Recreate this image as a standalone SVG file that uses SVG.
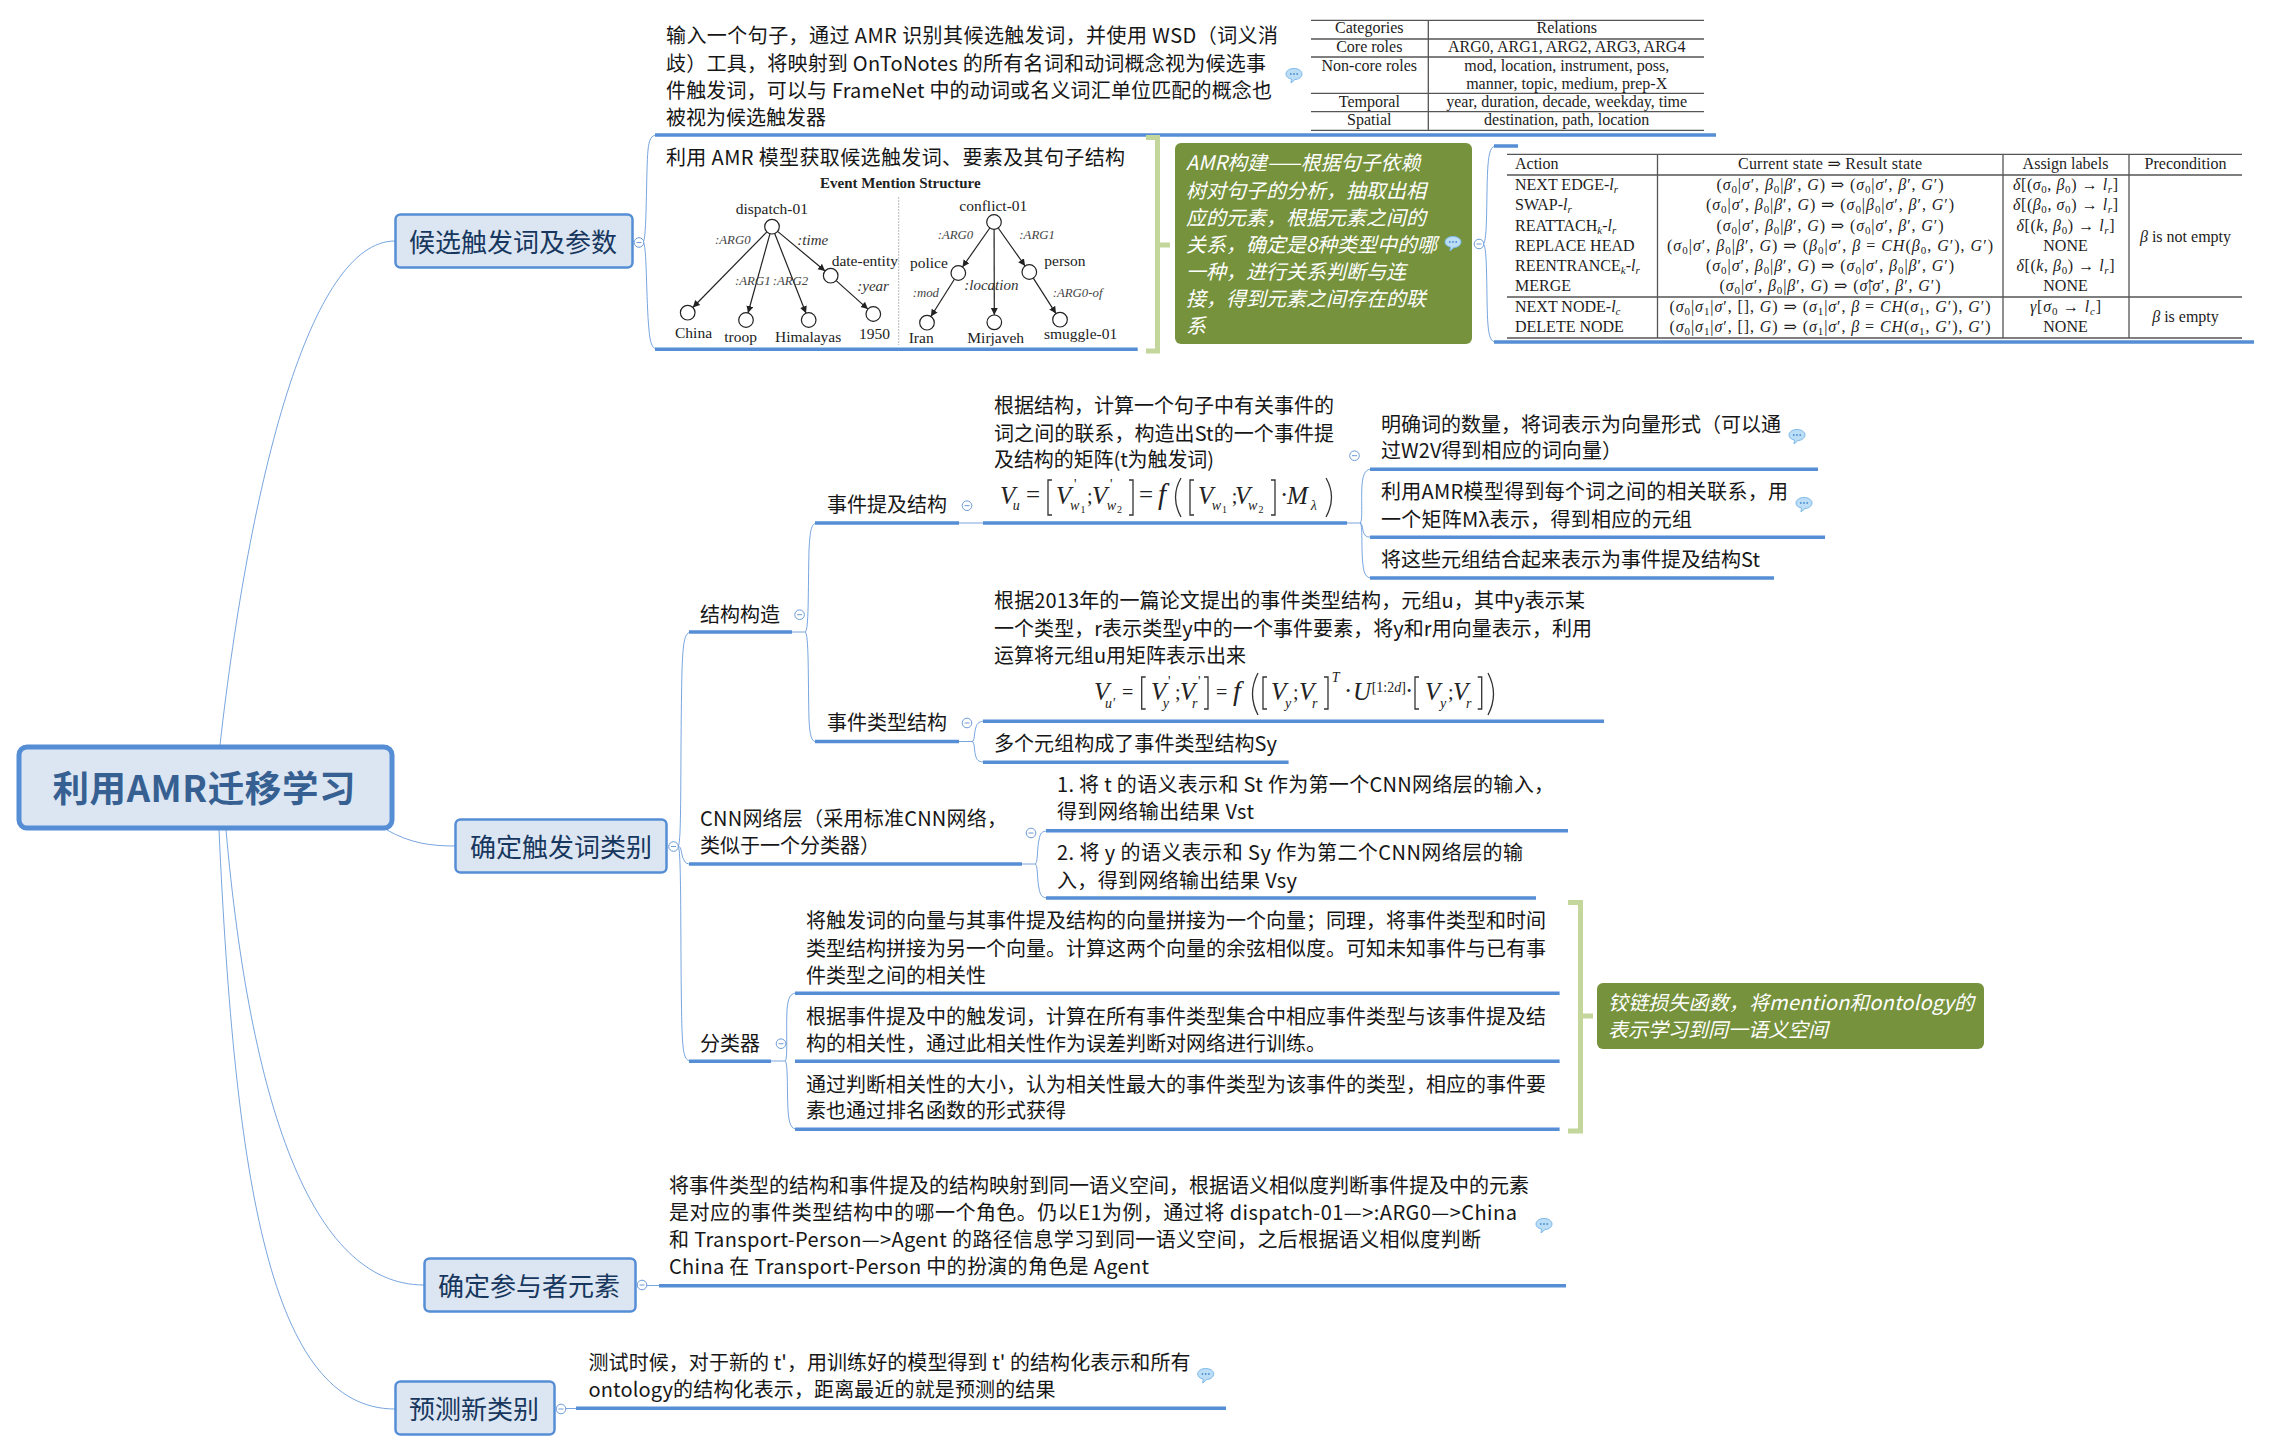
<svg xmlns="http://www.w3.org/2000/svg" width="2271" height="1451" viewBox="0 0 2271 1451">
<style>
text{font-family:"Noto Sans CJK SC","Noto Sans",sans-serif;fill:#161616;font-size:20px}
.c{font-size:36.500px;font-weight:700;fill:#376092;text-anchor:middle}
.t{font-size:26px;fill:#17375E}
.g{fill:#fff;font-style:italic}
.box{fill:#DCE6F2;stroke:#558ED5;stroke-width:2.5}
.u{stroke:#558ED5;stroke-width:3.5;fill:none}
.gb{fill:#76923C}
.sb{fill:none;stroke:#C3D69B;stroke-width:5}
.sr,.sr text{font-family:"Liberation Serif","DejaVu Serif",serif;font-size:16px;fill:#1c1c1c}
.m{text-anchor:middle}
.tl{stroke:#555;stroke-width:1.3;fill:none}
.am text{font-family:"Liberation Serif","DejaVu Serif",serif;font-size:15.5px;fill:#222}
.am .l{font-style:italic;font-size:12.8px;fill:#444}
.am .k{font-style:italic;font-size:15px;fill:#333}
.am .h{font-weight:700;font-size:15px}
.am circle{fill:#fff;stroke:#222;stroke-width:1.2}
.am line{stroke:#222;stroke-width:1.2;marker-end:url(#ah)}
.i{font-style:italic}
.s{font-size:11px;baseline-shift:-3px}
.fm text{font-family:"Liberation Serif","DejaVu Serif",serif;font-size:25px;fill:#222;font-style:italic}
.fm .n{font-style:normal}
.fm .z{font-size:14px}
.fm .d{font-size:10px;font-style:normal}
.fm path{fill:none;stroke:#333;stroke-width:1.3}
</style>
<defs>
<marker id="ah" markerUnits="userSpaceOnUse" markerWidth="8" markerHeight="8" refX="7" refY="3.5" orient="auto"><path d="M0,0L7,3.5L0,7z" fill="#222"/></marker>
<g id="note"><path d="M-8,-1C-8,-4.500 -4,-6.500 0,-6.500C4,-6.500 8,-4.500 8,-1C8,2.500 4,4.500 1,4.500L-3,8L-2.500,4C-6,3.400 -8,1.500 -8,-1z" fill="#BBDDF6" stroke="#7DB9EA" stroke-width="1"/><circle cx="-3.200" cy="-1" r=".9" fill="#4A90D0"/><circle cx="0" cy="-1" r=".9" fill="#4A90D0"/><circle cx="3.200" cy="-1" r=".9" fill="#4A90D0"/></g>
<g id="col"><circle r="4.800" fill="#fff" stroke="#6C9BD8" stroke-width="1"/><path d="M-2.500,0H2.500" stroke="#6C9BD8" stroke-width="1"/></g>
</defs>
<rect width="2271" height="1451" fill="#fff"/>
<g id="connectors" fill="none" stroke="#558ED5" stroke-width=".8">
<path d="M220,745C250,480 310,241 395,241"/>
<path d="M387,830C410,843 430,846 455,846"/>
<path d="M226,830C250,1100 310,1285 424,1285"/>
<path d="M219,830C235,1180 270,1409 395,1409"/>
<path d="M643,242C647,242 646,170 648,150C649,140 651,135 657,135"/>
<path d="M643,242C647,242 646,300 649,330C650,342 652,349 657,349"/>
<path d="M1483,244C1488,244 1486,190 1488,165C1489,152 1491,146 1496,146"/>
<path d="M1483,244C1488,244 1486,300 1488,325C1489,337 1491,342 1496,342"/>
<path d="M678,846C682,846 680,760 682,670C683,645 684,632 691,632"/>
<path d="M678,846C682,846 681,856 684,860C685,863 687,864 691,864"/>
<path d="M678,846C682,846 680,960 682,1030C683,1052 684,1061 691,1061"/>
<path d="M792,632H805"/>
<path d="M805,632C809,632 808,590 809,550C810,532 811,523 817,523"/>
<path d="M805,632C809,632 808,680 809,720C810,735 811,742 817,742"/>
<path d="M959,523H983"/>
<path d="M1347,523H1360"/>
<path d="M1360,523C1363,523 1361,500 1362,485C1363,473 1366,469 1372,469"/>
<path d="M1360,523C1363,523 1362,532 1365,535C1366,537 1368,537 1372,537"/>
<path d="M1360,523C1363,523 1361,550 1363,565C1364,574 1366,578 1372,578"/>
<path d="M959,741.500H972"/>
<path d="M972,741.500C975,741.500 974,732 976,727C977,723 980,721 985,721"/>
<path d="M972,741.500C975,741.500 974,752 976,757C977,761 980,762 985,762"/>
<path d="M1022,864H1035"/>
<path d="M1035,864C1038,864 1037,848 1039,840C1040,833 1042,831 1048,831"/>
<path d="M1035,864C1038,864 1037,880 1039,888C1040,895 1042,898 1048,898"/>
<path d="M771,1061H785"/>
<path d="M785,1061C788,1061 786,1030 787,1010C788,998 790,993 797,993"/>
<path d="M785,1061C788,1061 787,1090 788,1110C789,1124 791,1129 797,1129"/>
<path d="M646,1285.500H660"/>
<path d="M565,1408.500H576"/>
</g>
<g id="n-central"><rect x="19" y="747" width="373" height="81" rx="8" fill="#DCE6F2" stroke="#558ED5" stroke-width="5"/><text class="c" x="204" y="802" textLength="303">利用AMR迁移学习</text></g>
<g id="n-topic1"><rect class="box" x="395.500" y="214.500" width="237" height="53" rx="5"/><text class="t" x="409" y="252">候选触发词及参数</text><use href="#col" x="639" y="242.500"/></g>
<g id="n-topic2"><rect class="box" x="455.500" y="819.500" width="211" height="53" rx="5"/><text class="t" x="470" y="857">确定触发词类别</text><use href="#col" x="673.500" y="846.500"/></g>
<g id="n-topic3"><rect class="box" x="424.500" y="1258.500" width="211" height="53" rx="5"/><text class="t" x="438" y="1296">确定参与者元素</text><use href="#col" x="642" y="1285"/></g>
<g id="n-topic4"><rect class="box" x="395.500" y="1381.500" width="159" height="53" rx="5"/><text class="t" x="409" y="1419">预测新类别</text><use href="#col" x="561" y="1409"/></g>
<g id="n-input"><path class="u" d="M655,135H1716"/>
<text x="666" y="43" textLength="612">输入一个句子，通过 AMR 识别其候选触发词，并使用 WSD（词义消</text>
<text x="666" y="71" textLength="600">歧）工具，将映射到 OnToNotes 的所有名词和动词概念视为候选事</text>
<text x="666" y="98" textLength="606">件触发词，可以与 FrameNet 中的动词或名义词汇单位匹配的概念也</text>
<text x="666" y="125">被视为候选触发器</text>
<use href="#note" x="1294" y="75"/>
<g class="sr" id="table-relations">
<path class="tl" d="M1311,20.300H1704M1311,39H1704M1311,57H1704M1311,93.300H1704M1311,111.700H1704M1311,130.300H1704M1428.300,20V130.500"/>
<g class="m"><text x="1369.300" y="33.300">Categories</text><text x="1369.300" y="51.700">Core roles</text><text x="1369.300" y="70.700">Non-core roles</text><text x="1369.300" y="106.700">Temporal</text><text x="1369.300" y="125">Spatial</text>
<text x="1566.700" y="33.300">Relations</text><text x="1566.700" y="51.700">ARG0, ARG1, ARG2, ARG3, ARG4</text><text x="1566.700" y="70.700">mod, location, instrument, poss,</text><text x="1566.700" y="89">manner, topic, medium, prep-X</text><text x="1566.700" y="106.700">year, duration, decade, weekday, time</text><text x="1566.700" y="125">destination, path, location</text></g>
</g></g>
<g id="n-amr" class="am"><path class="u" d="M655,349.300H1137.700"/>
<text x="666" y="165" textLength="459" style="font-family:'Noto Sans CJK SC','Noto Sans',sans-serif;font-size:20px;fill:#161616">利用 AMR 模型获取候选触发词、要素及其句子结构</text>
<text class="h" x="820" y="188">Event Mention Structure</text>
<path d="M898.700,197V345" stroke="#bbb" stroke-width="1" stroke-dasharray="2 1" fill="none"/>
<line x1="766.900" y1="231.900" x2="692.800" y2="307.500"/><line x1="770" y1="233.700" x2="748" y2="313"/><line x1="774.700" y1="233.500" x2="806" y2="313.200"/><line x1="777.600" y1="231.400" x2="825.100" y2="271"/><line x1="836.100" y1="280.600" x2="867.900" y2="309.100"/>
<line x1="989.800" y1="228" x2="962.500" y2="267"/><line x1="998.200" y1="228" x2="1025.100" y2="266"/><line x1="994.100" y1="229.300" x2="994.300" y2="315"/><line x1="954.400" y1="279.200" x2="930.900" y2="316.500"/><line x1="1033.300" y1="278.100" x2="1056" y2="313.600"/>
<circle cx="772" cy="226.700" r="7.300"/><circle cx="687.700" cy="312.700" r="7.300"/><circle cx="746" cy="320" r="7.300"/><circle cx="808.700" cy="320" r="7.300"/><circle cx="830.700" cy="275.700" r="7.300"/><circle cx="873.300" cy="314" r="7.300"/>
<circle cx="994" cy="222" r="7.300"/><circle cx="958.300" cy="273" r="7.300"/><circle cx="1029.300" cy="272" r="7.300"/><circle cx="927" cy="322.700" r="7.300"/><circle cx="994.300" cy="322.300" r="7.300"/><circle cx="1060" cy="319.700" r="7.300"/>
<text x="735.700" y="214">dispatch-01</text><text class="l" x="715" y="244">:ARG0</text><text class="k" x="797.300" y="245">:time</text><text x="831.700" y="265.700">date-entity</text><text class="l" x="735" y="285">:ARG1</text><text class="l" x="772.700" y="285">:ARG2</text><text class="k" x="857.300" y="290.700">:year</text>
<text x="675" y="337.700">China</text><text x="724.300" y="341.700">troop</text><text x="775" y="341.700">Himalayas</text><text x="859" y="339">1950</text>
<text x="959.300" y="210.700">conflict-01</text><text class="l" x="937.700" y="239">:ARG0</text><text class="l" x="1019.300" y="239">:ARG1</text><text x="910" y="268.300">police</text><text x="1044.300" y="266">person</text><text class="l" x="912.700" y="297">:mod</text><text class="k" x="964.300" y="290">:location</text><text class="l" x="1052.700" y="297">:ARG0-of</text>
<text x="908.700" y="342.700">Iran</text><text x="967.300" y="342.700">Mirjaveh</text><text x="1044" y="339">smuggle-01</text>
</g>
<g id="b-amr-summary"><path class="sb" d="M1146,137.500H1157.500V351H1146M1157.500,245H1170"/></g>
<g id="n-amr-note"><rect class="gb" x="1175" y="143" width="297" height="201" rx="6"/>
<text class="g" x="1186" y="170">AMR构建——根据句子依赖</text><text class="g" x="1186" y="198">树对句子的分析，抽取出相</text><text class="g" x="1186" y="225">应的元素，根据元素之间的</text><text class="g" x="1186" y="252">关系，确定是8种类型中的哪</text><text class="g" x="1186" y="279">一种，进行关系判断与连</text><text class="g" x="1186" y="306">接，得到元素之间存在的联</text><text class="g" x="1186" y="333">系</text>
<use href="#note" x="1453" y="243"/><use href="#col" x="1479" y="244"/></g>
<g id="n-actions" class="sr"><path class="u" d="M1494,146H1518M1494,342H2254"/>
<path class="tl" d="M1507,154.300H2242M1507,175H2242M1507,297H2242M1507,338H2242M1657.500,154V338M2003,154V338M2129,154V338"/>
<text x="1515" y="169">Action</text><text x="1515" y="190">NEXT EDGE-<tspan class="i">l</tspan><tspan class="s i">r</tspan></text><text x="1515" y="210.300">SWAP-<tspan class="i">l</tspan><tspan class="s i">r</tspan></text><text x="1515" y="231">REATTACH<tspan class="s i">k</tspan>-<tspan class="i">l</tspan><tspan class="s i">r</tspan></text><text x="1515" y="251">REPLACE HEAD</text><text x="1515" y="271">REENTRANCE<tspan class="s i">k</tspan>-<tspan class="i">l</tspan><tspan class="s i">r</tspan></text><text x="1515" y="291">MERGE</text><text x="1515" y="311.700">NEXT NODE-<tspan class="i">l</tspan><tspan class="s i">c</tspan></text><text x="1515" y="331.700">DELETE NODE</text>
<g class="m">
<text x="1830" y="169" textLength="184">Current state ⇒ Result state</text>
<text x="1830" y="190" textLength="227">(<tspan class="i">σ</tspan><tspan class="s">0</tspan>|<tspan class="i">σ</tspan>′, <tspan class="i">β</tspan><tspan class="s">0</tspan>|<tspan class="i">β</tspan>′, <tspan class="i">G</tspan>) ⇒ (<tspan class="i">σ</tspan><tspan class="s">0</tspan>|<tspan class="i">σ</tspan>′, <tspan class="i">β</tspan>′, <tspan class="i">G</tspan>′)</text>
<text x="1830" y="210.300" textLength="248">(<tspan class="i">σ</tspan><tspan class="s">0</tspan>|<tspan class="i">σ</tspan>′, <tspan class="i">β</tspan><tspan class="s">0</tspan>|<tspan class="i">β</tspan>′, <tspan class="i">G</tspan>) ⇒ (<tspan class="i">σ</tspan><tspan class="s">0</tspan>|<tspan class="i">β</tspan><tspan class="s">0</tspan>|<tspan class="i">σ</tspan>′, <tspan class="i">β</tspan>′, <tspan class="i">G</tspan>′)</text>
<text x="1830" y="231" textLength="227">(<tspan class="i">σ</tspan><tspan class="s">0</tspan>|<tspan class="i">σ</tspan>′, <tspan class="i">β</tspan><tspan class="s">0</tspan>|<tspan class="i">β</tspan>′, <tspan class="i">G</tspan>) ⇒ (<tspan class="i">σ</tspan><tspan class="s">0</tspan>|<tspan class="i">σ</tspan>′, <tspan class="i">β</tspan>′, <tspan class="i">G</tspan>′)</text>
<text x="1830" y="251" textLength="326">(<tspan class="i">σ</tspan><tspan class="s">0</tspan>|<tspan class="i">σ</tspan>′, <tspan class="i">β</tspan><tspan class="s">0</tspan>|<tspan class="i">β</tspan>′, <tspan class="i">G</tspan>) ⇒ (<tspan class="i">β</tspan><tspan class="s">0</tspan>|<tspan class="i">σ</tspan>′, <tspan class="i">β</tspan> = <tspan class="i">CH</tspan>(<tspan class="i">β</tspan><tspan class="s">0</tspan>, <tspan class="i">G</tspan>′), <tspan class="i">G</tspan>′)</text>
<text x="1830" y="271" textLength="248">(<tspan class="i">σ</tspan><tspan class="s">0</tspan>|<tspan class="i">σ</tspan>′, <tspan class="i">β</tspan><tspan class="s">0</tspan>|<tspan class="i">β</tspan>′, <tspan class="i">G</tspan>) ⇒ (<tspan class="i">σ</tspan><tspan class="s">0</tspan>|<tspan class="i">σ</tspan>′, <tspan class="i">β</tspan><tspan class="s">0</tspan>|<tspan class="i">β</tspan>′, <tspan class="i">G</tspan>′)</text>
<text x="1830" y="291" textLength="221">(<tspan class="i">σ</tspan><tspan class="s">0</tspan>|<tspan class="i">σ</tspan>′, <tspan class="i">β</tspan><tspan class="s">0</tspan>|<tspan class="i">β</tspan>′, <tspan class="i">G</tspan>) ⇒ (<tspan class="i">σ̃</tspan>|<tspan class="i">σ</tspan>′, <tspan class="i">β</tspan>′, <tspan class="i">G</tspan>′)</text>
<text x="1830" y="311.700" textLength="321">(<tspan class="i">σ</tspan><tspan class="s">0</tspan>|<tspan class="i">σ</tspan><tspan class="s">1</tspan>|<tspan class="i">σ</tspan>′, [], <tspan class="i">G</tspan>) ⇒ (<tspan class="i">σ</tspan><tspan class="s">1</tspan>|<tspan class="i">σ</tspan>′, <tspan class="i">β</tspan> = <tspan class="i">CH</tspan>(<tspan class="i">σ</tspan><tspan class="s">1</tspan>, <tspan class="i">G</tspan>′), <tspan class="i">G</tspan>′)</text>
<text x="1830" y="331.700" textLength="321">(<tspan class="i">σ</tspan><tspan class="s">0</tspan>|<tspan class="i">σ</tspan><tspan class="s">1</tspan>|<tspan class="i">σ</tspan>′, [], <tspan class="i">G</tspan>) ⇒ (<tspan class="i">σ</tspan><tspan class="s">1</tspan>|<tspan class="i">σ</tspan>′, <tspan class="i">β</tspan> = <tspan class="i">CH</tspan>(<tspan class="i">σ</tspan><tspan class="s">1</tspan>, <tspan class="i">G</tspan>′), <tspan class="i">G</tspan>′)</text>
<text x="2065.500" y="169">Assign labels</text>
<text x="2065.500" y="190" textLength="105"><tspan class="i">δ</tspan>[(<tspan class="i">σ</tspan><tspan class="s">0</tspan>, <tspan class="i">β</tspan><tspan class="s">0</tspan>) → <tspan class="i">l</tspan><tspan class="s i">r</tspan>]</text>
<text x="2065.500" y="210.300" textLength="105"><tspan class="i">δ</tspan>[(<tspan class="i">β</tspan><tspan class="s">0</tspan>, <tspan class="i">σ</tspan><tspan class="s">0</tspan>) → <tspan class="i">l</tspan><tspan class="s i">r</tspan>]</text>
<text x="2065.500" y="231" textLength="98"><tspan class="i">δ</tspan>[(<tspan class="i">k</tspan>, <tspan class="i">β</tspan><tspan class="s">0</tspan>) → <tspan class="i">l</tspan><tspan class="s i">r</tspan>]</text>
<text x="2065.500" y="251">NONE</text>
<text x="2065.500" y="271" textLength="98"><tspan class="i">δ</tspan>[(<tspan class="i">k</tspan>, <tspan class="i">β</tspan><tspan class="s">0</tspan>) → <tspan class="i">l</tspan><tspan class="s i">r</tspan>]</text>
<text x="2065.500" y="291">NONE</text>
<text x="2065.500" y="311.700" textLength="71"><tspan class="i">γ</tspan>[<tspan class="i">σ</tspan><tspan class="s">0</tspan> → <tspan class="i">l</tspan><tspan class="s i">c</tspan>]</text>
<text x="2065.500" y="331.700">NONE</text>
<text x="2185.500" y="169">Precondition</text>
<text x="2185.500" y="241.500"><tspan class="i">β</tspan> is not empty</text>
<text x="2185.500" y="322"><tspan class="i">β</tspan> is empty</text>
</g></g>
<g id="n-structure"><path class="u" d="M689,632H792"/><text x="700" y="622">结构构造</text><use href="#col" x="799.600" y="614.700"/></g>
<g id="n-mention"><path class="u" d="M815,523H959"/><text x="827" y="512">事件提及结构</text><use href="#col" x="967" y="505.700"/></g>
<g id="n-mention-matrix"><path class="u" d="M983,523H1347"/>
<text x="994" y="413">根据结构，计算一个句子中有关事件的</text><text x="994" y="440.700" textLength="340">词之间的联系，构造出St的一个事件提</text><text x="994" y="467" textLength="220">及结构的矩阵(t为触发词)</text>
<use href="#col" x="1354.500" y="455.700"/>
<g class="fm"><text x="1000" y="504">V</text><text class="z" x="1012.700" y="510">u</text><text class="n" x="1026" y="503">=</text><path d="M1052,480H1048V515H1052"/><text x="1056" y="504">V</text><text class="n z" x="1074" y="489">'</text><text class="z" x="1070" y="510">w</text><text class="d" x="1080.500" y="513">1</text><text class="n" x="1087" y="503" style="font-size:20px">;</text><text x="1092" y="504">V</text><text class="n z" x="1110" y="489">'</text><text class="z" x="1106.700" y="510">w</text><text class="d" x="1117" y="513">2</text><path d="M1129,480H1133V515H1129"/><text class="n" x="1139" y="503">=</text><text x="1158" y="504" style="font-size:29px">f</text><path d="M1181,478Q1170,497 1181,517"/><path d="M1194,480H1190V515H1194"/><text x="1198" y="504">V</text><text class="z" x="1211.700" y="510">w</text><text class="d" x="1222" y="513">1</text><text class="n" x="1231.700" y="503" style="font-size:20px">;</text><text x="1235" y="504">V</text><text class="z" x="1248" y="510">w</text><text class="d" x="1258.500" y="513">2</text><path d="M1271,480H1275V515H1271"/><text class="n" x="1280" y="503">·</text><text x="1287" y="504">M</text><text class="z" x="1310.700" y="510">λ</text><path d="M1326,478Q1337,497 1326,517"/></g></g>
<g id="n-m1"><path class="u" d="M1370,469.300H1818"/><text x="1381" y="431.700" textLength="400">明确词的数量，将词表示为向量形式（可以通</text><text x="1381" y="458" textLength="241">过W2V得到相应的词向量）</text><use href="#note" x="1797" y="436"/></g>
<g id="n-m2"><path class="u" d="M1370,537.300H1825"/><text x="1381" y="499" textLength="407">利用AMR模型得到每个词之间的相关联系，用</text><text x="1381" y="527" textLength="311">一个矩阵Mλ表示，得到相应的元组</text><use href="#note" x="1804" y="504"/></g>
<g id="n-m3"><path class="u" d="M1370,578H1774"/><text x="1381" y="566.700" textLength="379">将这些元组结合起来表示为事件提及结构St</text></g>
<g id="n-type"><path class="u" d="M815,741.500H959"/><text x="827" y="730">事件类型结构</text><use href="#col" x="967" y="723"/></g>
<g id="n-type-matrix"><path class="u" d="M983,721.300H1604"/>
<text x="994" y="608.300" textLength="591">根据2013年的一篇论文提出的事件类型结构，元组u，其中y表示某</text><text x="994" y="635.700" textLength="598">一个类型，r表示类型y中的一个事件要素，将y和r用向量表示，利用</text><text x="994" y="662.700" textLength="252">运算将元组u用矩阵表示出来</text>
<g class="fm"><text x="1094" y="700">V</text><text class="z" x="1105" y="708">u'</text><text class="n" x="1122" y="699.300" style="font-size:20px">=</text><path d="M1145.700,677H1141.700V709H1145.700"/><text x="1151" y="700">V</text><text class="n z" x="1168" y="686">'</text><text class="z" x="1162.700" y="708">y</text><text class="n" x="1175" y="699.300" style="font-size:20px">;</text><text x="1180" y="700">V</text><text class="n z" x="1198" y="686">'</text><text class="z" x="1192" y="708">r</text><path d="M1204,677H1208V709H1204"/><text class="n" x="1216" y="699.300" style="font-size:20px">=</text><text x="1233" y="700" style="font-size:28px">f</text><path d="M1258,673Q1247,694 1258,715"/><path d="M1267,677H1263V709H1267"/><text x="1271" y="700">V</text><text class="z" x="1285" y="708">y</text><text class="n" x="1293" y="699.300" style="font-size:20px">;</text><text x="1299" y="700">V</text><text class="z" x="1312" y="708">r</text><path d="M1324,677H1328V709H1324"/><text class="z" x="1331.700" y="681.700">T</text><text class="n" x="1344" y="699.300">·</text><text x="1353" y="700">U</text><text class="n z" x="1371.700" y="691.700">[1:2<tspan class="i">d</tspan>]</text><text class="n" x="1405" y="699.300">·</text><path d="M1419,677H1415V709H1419"/><text x="1425" y="700">V</text><text class="z" x="1440" y="708">y</text><text class="n" x="1448" y="699.300" style="font-size:20px">;</text><text x="1453" y="700">V</text><text class="z" x="1466" y="708">r</text><path d="M1477.700,677H1481.700V709H1477.700"/><path d="M1488,673Q1499,694 1488,715"/></g></g>
<g id="n-t2"><path class="u" d="M983,762.300H1288.600"/><text x="994" y="750.700" textLength="283">多个元组构成了事件类型结构Sy</text></g>
<g id="n-cnn"><path class="u" d="M689,864H1022"/><text x="700" y="826" textLength="307">CNN网络层（采用标准CNN网络，</text><text x="700" y="853">类似于一个分类器）</text><use href="#col" x="1031" y="833"/></g>
<g id="n-c1"><path class="u" d="M1046,830.700H1568"/><text x="1057" y="792.300" textLength="497">1. 将 t 的语义表示和 St 作为第一个CNN网络层的输入，</text><text x="1057" y="819.300" textLength="197">得到网络输出结果 Vst</text></g>
<g id="n-c2"><path class="u" d="M1046,898H1536"/><text x="1057" y="860" textLength="466">2. 将 y 的语义表示和 Sy 作为第二个CNN网络层的输</text><text x="1057" y="887.700" textLength="240">入，得到网络输出结果 Vsy</text></g>
<g id="n-clf"><path class="u" d="M689,1061.300H771"/><text x="700" y="1051">分类器</text><use href="#col" x="781" y="1043.700"/></g>
<g id="n-clf1"><path class="u" d="M795,993.300H1559.600"/><text x="806" y="928">将触发词的向量与其事件提及结构的向量拼接为一个向量；同理，将事件类型和时间</text><text x="806" y="955.700">类型结构拼接为另一个向量。计算这两个向量的余弦相似度。可知未知事件与已有事</text><text x="806" y="982.700">件类型之间的相关性</text></g>
<g id="n-clf2"><path class="u" d="M795,1061.300H1559.600"/><text x="806" y="1024">根据事件提及中的触发词，计算在所有事件类型集合中相应事件类型与该事件提及结</text><text x="806" y="1051">构的相关性，通过此相关性作为误差判断对网络进行训练。</text></g>
<g id="n-clf3"><path class="u" d="M795,1129.300H1559.600"/><text x="806" y="1091.700">通过判断相关性的大小，认为相关性最大的事件类型为该事件的类型，相应的事件要</text><text x="806" y="1118.300">素也通过排名函数的形式获得</text></g>
<g id="b-clf-summary"><path class="sb" d="M1568,902.500H1580.500V1131H1568M1580.500,1016H1593"/></g>
<g id="n-clf-note"><rect class="gb" x="1597" y="983" width="387" height="66" rx="6"/><text class="g" x="1608" y="1010" textLength="366">铰链损失函数，将mention和ontology的</text><text class="g" x="1608" y="1036.700">表示学习到同一语义空间</text></g>
<g id="n-args"><path class="u" d="M659,1285.700H1566"/><text x="669" y="1193">将事件类型的结构和事件提及的结构映射到同一语义空间，根据语义相似度判断事件提及中的元素</text><text x="669" y="1220" textLength="848">是对应的事件类型结构中的哪一个角色。仍以E1为例，通过将 dispatch-01—&gt;:ARG0—&gt;China</text><text x="669" y="1247" textLength="812">和 Transport-Person—&gt;Agent 的路径信息学习到同一语义空间，之后根据语义相似度判断</text><text x="669" y="1274" textLength="480">China 在 Transport-Person 中的扮演的角色是 Agent</text><use href="#note" x="1544" y="1225"/></g>
<g id="n-predict"><path class="u" d="M576,1408.300H1226"/><text x="588.500" y="1370" textLength="602">测试时候，对于新的 t'，用训练好的模型得到 t' 的结构化表示和所有</text><text x="588.500" y="1397" textLength="467">ontology的结构化表示，距离最近的就是预测的结果</text><use href="#note" x="1205.700" y="1375"/></g>
</svg>
